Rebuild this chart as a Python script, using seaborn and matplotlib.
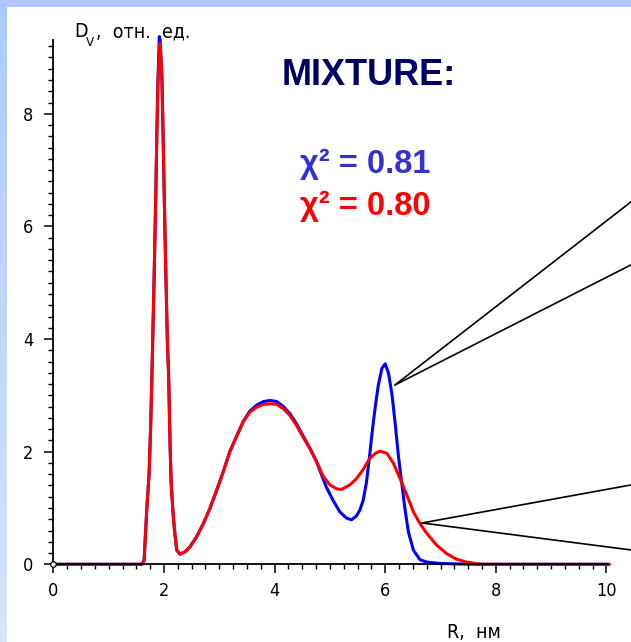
import numpy as np
import pandas as pd
import matplotlib
matplotlib.use("Agg")
import matplotlib.pyplot as plt
from matplotlib.patches import Rectangle
import seaborn as sns

# Volume size distributions D_V(R) of the mixture, two fits
r_blue = [0.00, 1.60, 1.64, 1.69, 1.73, 1.76, 1.78, 1.81, 1.83, 1.85, 1.87, 1.89,
          1.915, 1.93, 1.96, 1.98, 2.005, 2.03, 2.06, 2.085, 2.11, 2.13, 2.16, 2.19,
          2.23, 2.29, 2.38, 2.47, 2.59, 2.71, 2.83, 2.95, 3.07, 3.19, 3.32, 3.43,
          3.55, 3.68, 3.80, 3.92, 4.04, 4.16, 4.28, 4.40, 4.52, 4.64, 4.76, 4.82,
          4.94, 5.06, 5.18, 5.30, 5.39, 5.48, 5.54, 5.60, 5.66, 5.72, 5.77, 5.82,
          5.875, 5.94, 6.00, 6.06, 6.12, 6.18, 6.24, 6.30, 6.36, 6.42, 6.51, 6.63,
          6.75, 6.99, 7.35, 7.70, 10.05]
d_blue = [0.00, 0.00, 0.07, 1.00, 1.60, 2.50, 3.30, 4.60, 5.50, 6.50, 7.60, 8.60,
          9.37, 9.30, 8.70, 7.80, 6.50, 5.30, 4.00, 3.30, 2.10, 1.43, 0.96, 0.60,
          0.25, 0.18, 0.22, 0.31, 0.49, 0.72, 0.99, 1.31, 1.64, 2.00, 2.29, 2.53,
          2.72, 2.83, 2.89, 2.91, 2.89, 2.80, 2.67, 2.49, 2.27, 2.06, 1.82, 1.66,
          1.36, 1.13, 0.93, 0.82, 0.79, 0.86, 0.96, 1.13, 1.45, 1.95, 2.40, 2.80,
          3.18, 3.48, 3.56, 3.39, 3.03, 2.50, 1.91, 1.43, 0.96, 0.57, 0.25, 0.08,
          0.04, 0.015, 0.005, 0.00, 0.00]

r_red = [0.00, 1.60, 1.64, 1.69, 1.73, 1.76, 1.78, 1.81, 1.83, 1.85, 1.87, 1.89,
         1.915, 1.93, 1.96, 1.98, 2.005, 2.03, 2.06, 2.085, 2.11, 2.13, 2.16, 2.19,
         2.23, 2.29, 2.38, 2.47, 2.59, 2.71, 2.83, 2.95, 3.07, 3.19, 3.32, 3.43,
         3.55, 3.68, 3.80, 3.92, 4.04, 4.16, 4.28, 4.40, 4.52, 4.64, 4.76, 4.88,
         5.00, 5.12, 5.21, 5.36, 5.48, 5.60, 5.72, 5.82, 5.91, 6.03, 6.15, 6.27,
         6.39, 6.51, 6.63, 6.75, 6.93, 7.11, 7.29, 7.47, 7.66, 7.80, 10.05]
d_red = [0.00, 0.00, 0.07, 1.00, 1.60, 2.50, 3.30, 4.60, 5.50, 6.50, 7.60, 8.50,
         9.10, 9.25, 8.70, 7.80, 6.50, 5.30, 4.00, 3.30, 2.10, 1.43, 0.96, 0.60,
         0.25, 0.18, 0.22, 0.31, 0.49, 0.72, 0.99, 1.31, 1.64, 2.00, 2.29, 2.53,
         2.70, 2.79, 2.84, 2.85, 2.84, 2.76, 2.64, 2.46, 2.25, 2.05, 1.82, 1.56,
         1.41, 1.34, 1.33, 1.41, 1.52, 1.68, 1.88, 1.97, 2.01, 1.97, 1.79, 1.52,
         1.23, 0.93, 0.72, 0.55, 0.34, 0.19, 0.09, 0.04, 0.01, 0.00, 0.00]

fit_labels = ["\u03c7\u00b2 = 0.81", "\u03c7\u00b2 = 0.80"]
x_ticks = [0, 2, 4, 6, 8, 10]
y_ticks = [0, 2, 4, 6, 8]

# Leader lines: (start R, start D) -> list of end points (R, D)
leaders = [((6.177, 3.185), [(10.45, 6.44), (10.45, 5.32)]),
           ((6.666, 0.734), [(10.45, 1.41), (10.45, 0.254)])]

df_blue = pd.DataFrame({"R": r_blue, "D": d_blue})
df_red = pd.DataFrame({"R": r_red, "D": d_red})

sns.set_style("white")
narrow = ["Liberation Sans Narrow", "DejaVu Sans"]
bold_sans = ["Liberation Sans", "DejaVu Sans"]

W, H = 631, 642
fig = plt.figure(figsize=(W / 100, H / 100), dpi=100, facecolor="white")

# slide-style frame: top strip and a fading left strip
bg = fig.add_axes([0, 0, 1, 1], zorder=-5)
bg.set_xlim(0, W)
bg.set_ylim(H, 0)
bg.set_axis_off()
top_c = np.array([0.68, 0.79, 1.0])
bot_c = np.array([0.84, 0.89, 0.98])
grad = np.linspace(0, 1, 200)[:, None, None] * (bot_c - top_c) + top_c
bg.imshow(grad, extent=[0, 7, H, 0], aspect="auto")
bg.add_patch(Rectangle((0, 0), W, 7, color=top_c, lw=0))

x0, x1 = 53.4, 608.1
y0, y1 = 564.3, 40.0
ax = fig.add_axes([x0 / W, (H - y0) / H, (x1 - x0) / W, (y0 - y1) / H])
ax.set_facecolor("none")

sns.lineplot(data=df_blue, x="R", y="D", color="#0000ff", lw=2.2,
             estimator=None, sort=False, ax=ax)
sns.lineplot(data=df_red, x="R", y="D", color="#ff0000", lw=2.2,
             estimator=None, sort=False, ax=ax)
for ln in ax.lines:
    ln.set_clip_on(False)
ax.plot([r_red[0]], [d_red[0]], marker="o", ms=4, mfc="white", mec="black",
        mew=0.9, clip_on=False, zorder=5)

for (sx, sy), ends in leaders:
    for ex, ey in ends:
        ax.plot([sx, ex], [sy, ey], color="black", lw=1.2, clip_on=False,
                zorder=4)

ax.set_xlim(0, 10.03)
ax.set_ylim(0, 9.31)
ax.set_xlabel("")
ax.set_ylabel("")
for s in ["top", "right"]:
    ax.spines[s].set_visible(False)
for s in ["left", "bottom"]:
    ax.spines[s].set_color("black")
    ax.spines[s].set_linewidth(1.3)

ax.set_xticks(x_ticks)
ax.set_xticklabels([str(v) for v in x_ticks])
ax.set_yticks(y_ticks)
ax.set_yticklabels([str(v) for v in y_ticks])
ax.set_xticks(np.arange(0, 10.01, 0.25), minor=True)
ax.set_yticks(np.arange(0, 9.21, 0.2), minor=True)
ax.tick_params(which="both", bottom=True, left=True, top=False, right=False)
ax.tick_params(which="major", direction="out", length=6.5, width=1.1,
               color="black", labelsize=13, labelcolor="black", pad=6)
ax.tick_params(which="minor", direction="out", length=3.6, width=1.0,
               color="black")
ax.tick_params(axis="y", which="major", pad=8)
for lab in ax.get_xticklabels() + ax.get_yticklabels():
    lab.set_family(narrow)
    lab.set_stretch("condensed")

def px(x, y):
    return x / W, (H - y) / H

# axis titles
lab_kw = dict(family=narrow, stretch="condensed", va="baseline", color="black")
fig.text(*px(74, 37), "D", fontsize=14, **lab_kw)
fig.text(*px(86, 46), "V", fontsize=9.5, **lab_kw)
fig.text(*px(96, 37), ",  отн.  ед.", fontsize=14, **lab_kw)
fig.text(*px(447, 638), "R,  нм", fontsize=14, **lab_kw)

# header and fit quality
fig.text(*px(282, 85), "MIXTURE:", family=bold_sans, fontsize=26,
         weight="bold", color="#000066", va="baseline")
fig.text(*px(300, 173), fit_labels[0], family=bold_sans, fontsize=23.5,
         weight="bold", color="#3333cc", va="baseline")
fig.text(*px(300, 215), fit_labels[1], family=bold_sans, fontsize=23.5,
         weight="bold", color="#ff0000", va="baseline")

fig.savefig("out.png", dpi=100, facecolor="white")
